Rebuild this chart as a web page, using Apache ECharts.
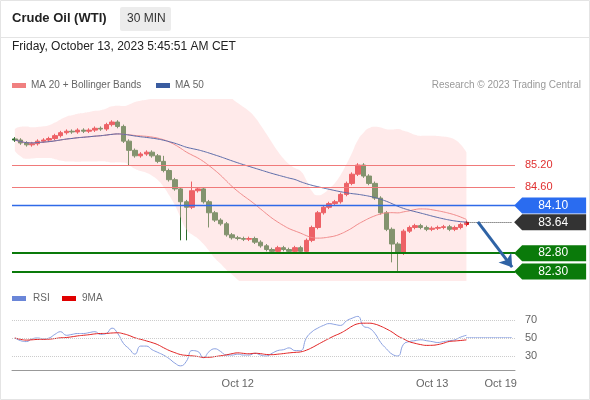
<!DOCTYPE html>
<html><head><meta charset="utf-8">
<script src="https://cdn.jsdelivr.net/npm/echarts@6/dist/echarts.min.js"></script>
<style>html,body{margin:0;padding:0;background:#fff}#c{width:590px;height:400px}</style>
</head><body><div id="c"></div>
<script>
const closes=[85.88,85.80,85.75,85.78,85.85,85.88,85.92,86.0,86.08,86.12,86.1,86.15,86.12,86.15,86.2,86.18,86.3,86.37,86.25,85.85,
85.6,85.45,85.5,85.55,85.45,85.3,85.05,84.8,84.55,84.2,84.05,84.5,84.55,84.2,83.9,83.7,83.6,83.3,83.22,83.2,
83.18,83.2,83.1,83.0,82.9,82.85,82.95,82.9,82.85,82.95,82.85,83.15,83.5,83.9,84.05,84.15,84.2,84.4,84.7,84.95,
85.2,84.9,84.7,84.3,83.9,83.45,83.05,82.8,83.4,83.5,83.55,83.5,83.45,83.48,83.5,83.52,83.45,83.5,83.58,83.64];
const lowSpikes={20:85.2,29:83.15,30:83.15,34:83.5,66:82.55,67:82.3};
const highSpikes={26:85.45,60:85.25,31:84.75};
const rsi=[50,47,46,49,50,49,50,54,57,53,54,55,55,56,57,54,55,61,55,44,38,32,41,41,37,34,31,27,22,19,24,36,35,28,35,38,35,31,31,32,
31,31,33,31,30,33,36,37,39,36,36,50,57,61,64,66,65,64,69,72,74,63,61,55,45,38,32,30,43,46,47,48,47,46,45,46,47,48,51,53];
const axisLabels={39:'Oct 12',73:'Oct 13',85:'Oct 19'};
const levels={r1:85.20,r2:84.60,pivot:84.10,last:83.64,s1:82.80,s2:82.30};
const N=88;
const cats=[];for(let i=0;i<N;i++)cats.push(axisLabels[i]||String(i));
const candles=closes.map((c,i)=>{const o=i?closes[i-1]:c+0.03;let lo=Math.min(o,c)-0.05,hi=Math.max(o,c)+0.05;
 if(lowSpikes[i]!==undefined)lo=lowSpikes[i];if(highSpikes[i]!==undefined)hi=highSpikes[i];return [o,c,lo,hi];});
function sma(a,n,i){const s=a.slice(Math.max(0,i-n+1),i+1);return s.reduce((x,y)=>x+y,0)/s.length;}
const ma20=[],ma50=[],bbL=[],bbW=[],rsiMa=[];
closes.forEach((c,i)=>{const m=sma(closes,20,i);const s=closes.slice(Math.max(0,i-19),i+1);
 const sd=Math.sqrt(s.reduce((x,y)=>x+(y-m)*(y-m),0)/s.length);ma20.push(m);ma50.push(sma(closes,50,i));
 bbL.push(m-2.6*sd-0.3);bbW.push(5.2*sd+0.6);rsiMa.push(sma(rsi,9,i));});
const tag='path://M0,8 L8,0 L72,0 L72,16 L8,16 Z';
function tagPt(v,col){return {coord:[87,v],value:v.toFixed(2),symbol:tag,symbolSize:[72,16],symbolOffset:[38,0],
 itemStyle:{color:col},label:{show:true,color:'#fff',fontSize:12,offset:[3,0],formatter:v.toFixed(2)}};}
function hline(v,col,w,lbl){return {type:'line',data:[],color:col,markLine:{silent:true,symbol:'none',
 itemStyle:{color:col},lineStyle:{color:col,width:w,type:'solid',opacity:1},
 label:lbl?{show:true,position:'end',formatter:lbl,color:'#e03030',fontSize:11,distance:10}:{show:false},data:[{yAxis:v}]}};}
const chart=echarts.init(document.getElementById('c'));
chart.setOption({animation:false,
 graphic:[
  {type:'rect',shape:{x:0.5,y:0.5,width:589,height:399},style:{fill:'none',stroke:'#e4e4e4'}},
  {type:'line',shape:{x1:0,y1:37.5,x2:590,y2:37.5},style:{stroke:'#e4e4e4'}},
  {type:'text',left:12,top:12,style:{text:'Crude Oil (WTI)',font:'bold 13px Arial, Liberation Sans',fill:'#222'}},
  {type:'rect',shape:{x:120,y:7,width:51,height:24,r:2},style:{fill:'#ececec'}},
  {type:'text',left:127,top:13,style:{text:'30 MIN',font:'12px Liberation Sans',fill:'#333'}},
  {type:'text',left:12,top:41,style:{text:'Friday, October 13, 2023 5:45:51 AM CET',font:'12px Liberation Sans',fill:'#222'}},
  {type:'rect',shape:{x:12,y:83,width:14,height:5},style:{fill:'#f08080'}},
  {type:'text',left:31,top:80,style:{text:'MA 20 + Bollinger Bands',font:'10px Liberation Sans',fill:'#666'}},
  {type:'rect',shape:{x:156,y:83,width:14,height:5},style:{fill:'#3a5ca0'}},
  {type:'text',left:175,top:80,style:{text:'MA 50',font:'10px Liberation Sans',fill:'#666'}},
  {type:'text',right:9,top:80,style:{text:'Research © 2023 Trading Central',font:'10px Liberation Sans',fill:'#999'}},
  {type:'rect',shape:{x:12,y:296,width:14,height:5},style:{fill:'#6a86d8'}},
  {type:'text',left:33,top:293,style:{text:'RSI',font:'10px Liberation Sans',fill:'#666'}},
  {type:'rect',shape:{x:62,y:296,width:14,height:5},style:{fill:'#e00000'}},
  {type:'text',left:82,top:293,style:{text:'9MA',font:'10px Liberation Sans',fill:'#666'}}
 ],
 grid:[{left:12,right:75,top:100,height:180},{left:12,right:75,top:312,height:58}],
 xAxis:[{type:'category',data:cats,gridIndex:0,show:false},
  {type:'category',data:cats,gridIndex:1,axisLine:{lineStyle:{color:'#999'}},axisTick:{show:false},
   axisLabel:{interval:0,color:'#666',fontSize:11,margin:8,formatter:(v,i)=>axisLabels[i]||''}}],
 yAxis:[{type:'value',gridIndex:0,min:82.07,max:86.97,show:false,splitLine:{show:false}},
  {type:'value',gridIndex:1,min:14.4,max:78.9,show:false,splitLine:{show:false}}],
 series:[
  {type:'line',data:bbL,stack:'bb',symbol:'none',lineStyle:{opacity:0},smooth:0.6},
  {type:'line',data:bbW,stack:'bb',symbol:'none',lineStyle:{opacity:0},smooth:0.6,areaStyle:{color:'rgba(255,205,205,0.6)'}},
  {type:'line',data:ma20,symbol:'none',smooth:true,lineStyle:{color:'#f08a8a',width:1}},
  {type:'line',data:ma50,symbol:'none',smooth:true,lineStyle:{color:'#5a6aa8',width:1}},
  hline(levels.r1,'#f07a7a',1,'85.20'),
  hline(levels.r2,'#f07a7a',1,'84.60'),
  hline(levels.pivot,'#2f6ae8',1.3,null),
  hline(levels.s1,'#0a7a0a',2,null),
  hline(levels.s2,'#0a7a0a',2,null),
  {type:'candlestick',data:candles,barWidth:5,
   itemStyle:{color:'#e0141c',color0:'#2a6a2a',borderColor:'#e0141c',borderColor0:'#2a6a2a'},
   markLine:{silent:true,symbol:'none',label:{show:false},data:[
    [{coord:[79,levels.last],lineStyle:{color:'#444',width:1,type:'dotted'}},{coord:[87,levels.last]}],
    [{coord:[81,83.65],symbol:'none',lineStyle:{color:'#2f63a5',width:3,type:'solid'}},{coord:[87,82.42],symbol:'arrow',symbolSize:12}]
   ]},
   markPoint:{silent:true,data:[tagPt(levels.pivot,'#2a6cf0'),tagPt(levels.last,'#333'),tagPt(levels.s1,'#0a7a0a'),tagPt(levels.s2,'#0a7a0a')]}
  },
  {type:'line',xAxisIndex:1,yAxisIndex:1,data:rsi,symbol:'none',smooth:true,lineStyle:{color:'#8aa0e0',width:1},
   markLine:{silent:true,symbol:'none',data:[
    {yAxis:70,lineStyle:{color:'#ccc',type:'dotted',width:1},label:{position:'end',formatter:'70',color:'#666',fontSize:11,distance:10}},
    {yAxis:50,lineStyle:{color:'#ccc',type:'dotted',width:1},label:{position:'end',formatter:'50',color:'#666',fontSize:11,distance:10}},
    {yAxis:30,lineStyle:{color:'#ccc',type:'dotted',width:1},label:{position:'end',formatter:'30',color:'#666',fontSize:11,distance:10}},
    [{coord:[79,51],lineStyle:{color:'#6a86d8',type:'dotted',width:1},label:{show:false}},{coord:[87,51]}]
   ]}},
  {type:'line',xAxisIndex:1,yAxisIndex:1,data:rsiMa,symbol:'none',smooth:true,lineStyle:{color:'#e02020',width:1}}
 ]});
</script></body></html>
